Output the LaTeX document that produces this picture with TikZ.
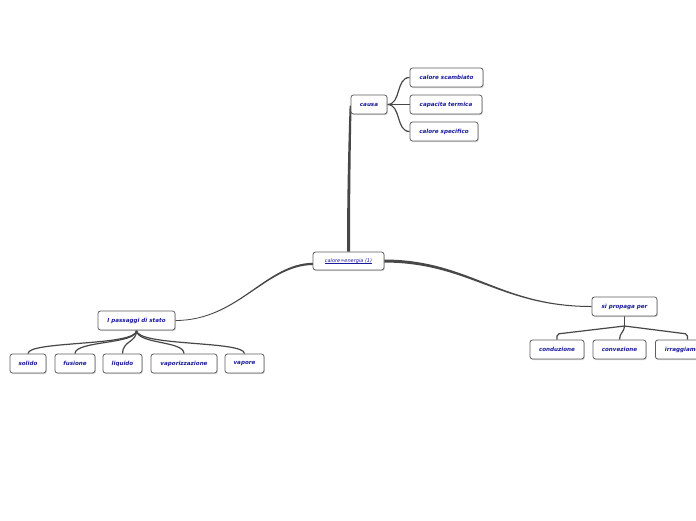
\documentclass[tikz,border=0pt]{standalone}
\usepackage{fontspec}
\newfontfamily\lab{DejaVu Sans}
\usetikzlibrary{shadows}
\newcommand\myul[1]{\setbox0\hbox{#1}\rlap{\raisebox{-0.9pt}{\rule{\wd0}{0.35pt}}}\box0}
\pgfdeclarelayer{paper}
\pgfdeclarelayer{links}
\pgfsetlayers{paper,links,main}
\definecolor{txt}{HTML}{1A1A9C}
\definecolor{bord}{HTML}{5E5E5E}
\definecolor{conn}{HTML}{474747}
\tikzset{
 box/.style={draw=bord, line width=0.8pt, fill=white, rounded corners=2.5pt, minimum height=19pt, inner xsep=0pt, inner ysep=0pt, text=txt,
   font=\lab\bfseries\itshape\fontsize{5.6}{6}\selectfont,
   drop shadow={opacity=0.35, shadow xshift=0.8pt, shadow yshift=-1pt}},
 centre/.style={box, font=\lab\itshape\fontsize{5}{6}\selectfont, minimum height=18pt},
 link/.style={draw=conn, line width=1.2pt},
 taper/.style={fill=conn, draw=none},
}
\begin{document}
\begin{tikzpicture}[x=1pt,y=-1pt]
\clip (0,0) rectangle (696,520);
\begin{pgfonlayer}{paper}
\fill[white] (0,0) rectangle (696,520);
\end{pgfonlayer}

% nodes
\node[centre, minimum width=71pt] (c) at (348.5,261) {\myul{calore=energia (1)}};
\node[box, minimum width=36pt] (causa) at (369,104.5) {causa};
\node[box, minimum width=73pt] (cs) at (446.5,77.5) {calore scambiato};
\node[box, minimum width=72pt] (ct) at (446,104.5) {capacita termica};
\node[box, minimum width=68pt] (csp) at (444,131.5) {calore specifico};
\node[box, minimum width=77pt] (p) at (136.5,320.5) {I passaggi di stato};
\node[box, minimum width=36pt] (sol) at (28,363.5) {solido};
\node[box, minimum width=40pt] (fus) at (75,363.5) {fusione};
\node[box, minimum width=39pt] (liq) at (122.5,363.5) {liquido};
\node[box, minimum width=66pt] (vap) at (184,363.5) {vaporizzazione};
\node[box, minimum width=39pt] (vpr) at (244.5,363.5) {vapore};
\node[box, minimum width=65pt] (sp) at (624.5,306.5) {si propaga per};
\node[box, minimum width=54pt] (cond) at (557,349.5) {conduzione};
\node[box, minimum width=53pt] (conv) at (619.5,349.5) {convezione};
\node[box, minimum width=64pt, anchor=west] (irr) at (655,349.5) {irraggiamento};
\coordinate (spj) at (624.5,326);

\begin{pgfonlayer}{links}
% main tapered connectors
\fill[taper] ([shift={(-1.5,0)}]c.north) .. controls +(0,-75) and +(-0.3,10) .. ([shift={(-1,1)}]causa.west)
   -- ([shift={(1,1)}]causa.west) .. controls +(-0.3,10) and +(0,-75) .. ([shift={(1.5,0)}]c.north) -- cycle;
\fill[taper] ([shift={(-1,-1.5)}]c.east) .. controls +(86,0) and +(-92,0) .. ([shift={(0,-0.5)}]sp.west)
   -- ([shift={(0,0.5)}]sp.west) .. controls +(-92,0) and +(86,0) .. ([shift={(-1,1.5)}]c.east) -- cycle;
\fill[taper] ([shift={(1,1.8)}]c.west) .. controls +(-48,0) and +(63,0) .. ([shift={(0,-0.4)}]p.east)
   -- ([shift={(0,0.4)}]p.east) .. controls +(63,0) and +(-48,0) .. ([shift={(1,4)}]c.west) -- cycle;

% causa children
\draw[link] (causa.east) .. controls +(14,0) and +(-14,0) .. (cs.west);
\draw[link] (causa.east) -- (ct.west);
\draw[link] (causa.east) .. controls +(14,0) and +(-14,0) .. (csp.west);

% passaggi children
\draw[link] (p.south) .. controls +(0.5,16) and +(0,-13) .. (sol.north);
\draw[link] (p.south) .. controls +(0.5,14) and +(0,-13) .. (fus.north);
\draw[link] (p.south) .. controls +(0.5,12) and +(0,-13) .. (liq.north);
\draw[link] (p.south) .. controls +(0.5,14) and +(0,-13) .. (vap.north);
\draw[link] (p.south) .. controls +(0.5,16) and +(0,-13) .. (vpr.north);

% si propaga children
\draw[link] (sp.south) -- (spj);
\draw[link, rounded corners=2pt] (spj) -- (cond.north |- 0,334) -- (cond.north);
\draw[link] (spj) .. controls +(0,6) and +(0,-7) .. (conv.north);
\draw[link, rounded corners=2pt] (spj) -- (irr.north |- 0,334) -- (irr.north);
\end{pgfonlayer}
\end{tikzpicture}
\end{document}
